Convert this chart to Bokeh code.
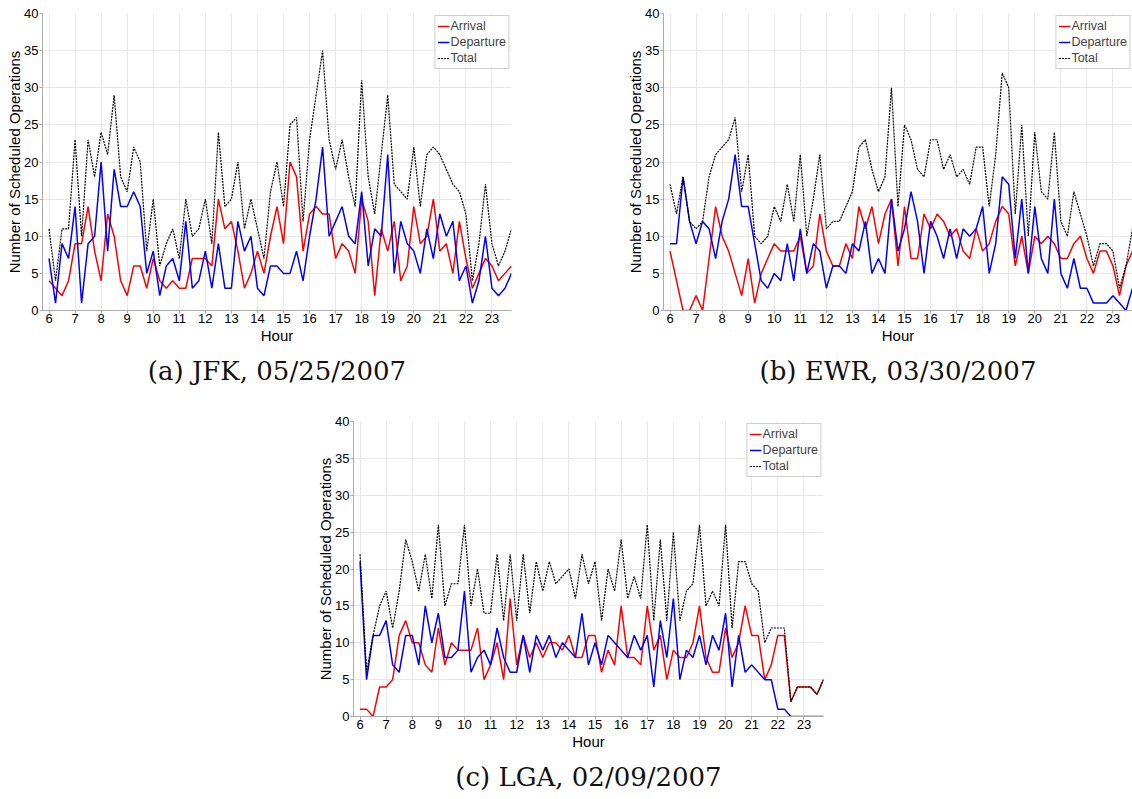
from bokeh.plotting import figure
from bokeh.models import Range1d, Title, Spacer, FixedTicker
from bokeh.layouts import column, row
from bokeh.embed import file_html
from bokeh.resources import INLINE

# quarter-hour slots from 06:00 to 23:45
hours = [6 + 0.25 * i for i in range(72)]
hour_ticks = list(range(6, 24))
ops_ticks = list(range(0, 41, 5))

# (a) JFK, 05/25/2007
jfk_arrival = [4, 3, 2, 4, 9, 9, 14, 8, 4, 13,
               10, 4, 2, 6, 6, 3, 7, 4, 3, 4,
               3, 3, 7, 7, 7, 6, 15, 11, 12, 8,
               3, 5, 8, 5, 10, 14, 9, 20, 18, 8,
               13, 14, 13, 13, 7, 9, 8, 5, 15, 12,
               2, 11, 8, 12, 4, 6, 14, 9, 10, 15,
               8, 9, 5, 12, 7, 3, 5, 7, 6, 4,
               5, 6]
jfk_departure = [7, 1, 9, 7, 14, 1, 9, 10, 20, 8,
                 19, 14, 14, 16, 14, 5, 8, 2, 6, 7,
                 4, 12, 3, 4, 8, 3, 9, 3, 3, 12,
                 8, 10, 3, 2, 6, 6, 5, 5, 8, 4,
                 10, 15, 22, 10, 12, 14, 10, 9, 16, 6,
                 11, 10, 21, 5, 12, 9, 8, 5, 11, 7,
                 13, 10, 12, 4, 6, 1, 4, 10, 3, 2,
                 3, 5]
jfk_total = [11, 4, 11, 11, 23, 10, 23, 18, 24, 21,
             29, 18, 16, 22, 20, 8, 15, 6, 9, 11,
             7, 15, 10, 11, 15, 9, 24, 14, 15, 20,
             11, 15, 11, 7, 16, 20, 14, 25, 26, 12,
             23, 29, 35, 23, 19, 23, 18, 14, 31, 18,
             13, 21, 29, 17, 16, 15, 22, 14, 21, 22,
             21, 19, 17, 16, 13, 4, 9, 17, 9, 6,
             8, 11]

# (b) EWR, 03/30/2007
ewr_arrival = [8, 4, 0, 0, 2, 0, 7, 14, 10, 8,
               5, 2, 7, 1, 5, 7, 9, 8, 8, 8,
               10, 5, 6, 13, 8, 6, 6, 9, 7, 14,
               11, 14, 9, 13, 15, 6, 14, 7, 7, 13,
               11, 13, 12, 10, 11, 8, 7, 11, 8, 9,
               12, 14, 13, 6, 10, 5, 10, 9, 10, 9,
               7, 7, 9, 10, 7, 5, 8, 8, 6, 2,
               6, 8]
ewr_departure = [9, 9, 18, 12, 9, 12, 11, 7, 12, 15,
                 21, 14, 14, 9, 4, 3, 5, 4, 9, 4,
                 11, 5, 9, 8, 3, 6, 6, 5, 9, 8,
                 12, 5, 7, 5, 15, 8, 11, 16, 12, 5,
                 12, 10, 7, 11, 7, 11, 10, 11, 14, 5,
                 9, 18, 17, 7, 15, 5, 14, 7, 5, 15,
                 5, 3, 7, 3, 3, 1, 1, 1, 2, 1,
                 0, 3]
ewr_total = [17, 13, 18, 12, 11, 12, 18, 21, 22, 23,
             26, 16, 21, 10, 9, 10, 14, 12, 17, 12,
             21, 10, 15, 21, 11, 12, 12, 14, 16, 22,
             23, 19, 16, 18, 30, 14, 25, 23, 19, 18,
             23, 23, 19, 21, 18, 19, 17, 22, 22, 14,
             21, 32, 30, 13, 25, 10, 24, 16, 15, 24,
             12, 10, 16, 13, 10, 6, 9, 9, 8, 3,
             6, 11]

# (c) LGA, 02/09/2007
lga_arrival = [1, 1, 0, 4, 4, 5, 11, 13, 10, 10,
               7, 6, 12, 7, 10, 9, 9, 9, 12, 5,
               7, 10, 5, 16, 7, 11, 8, 10, 8, 10,
               10, 9, 11, 8, 8, 11, 11, 6, 9, 7,
               15, 8, 8, 7, 15, 9, 11, 5, 9, 8,
               8, 10, 15, 8, 6, 6, 12, 8, 10, 15,
               11, 11, 5, 7, 11, 11, 2, 4, 4, 4,
               3, 5]
lga_departure = [21, 5, 11, 11, 13, 7, 6, 11, 11, 7,
                 15, 10, 14, 8, 8, 9, 17, 6, 8, 9,
                 7, 12, 8, 6, 6, 11, 6, 11, 9, 11,
                 8, 10, 9, 8, 14, 7, 10, 7, 11, 10,
                 9, 8, 11, 9, 11, 4, 13, 8, 16, 5,
                 9, 8, 11, 7, 11, 9, 14, 4, 11, 6,
                 7, 6, 5, 5, 1, 1, 0, 0, 0, 0,
                 0, 0]
lga_total = [22, 6, 11, 15, 17, 12, 17, 24, 21, 17,
             22, 16, 26, 15, 18, 18, 26, 15, 20, 14,
             14, 22, 13, 22, 13, 22, 14, 21, 17, 21,
             18, 19, 20, 16, 22, 18, 21, 13, 20, 17,
             24, 16, 19, 16, 26, 13, 24, 13, 25, 13,
             17, 18, 26, 15, 17, 15, 26, 12, 21, 21,
             18, 17, 10, 12, 12, 12, 2, 4, 4, 4,
             3, 5]

SANS = "Liberation Sans"
SERIF = "DejaVu Serif"
AXIS_GRAY = "#ababab"
GRID_GRAY = "#e8e8e8"


def panel(arrival, departure, total, caption, width, height, frame_h, right):
    p = figure(width=width, height=height,
               x_range=Range1d(5.75, 23.75), y_range=Range1d(0, 40),
               output_backend="svg", toolbar_location=None,
               min_border_left=42, min_border_right=right, min_border_top=13,
               min_border_bottom=height - 13 - frame_h)
    p.outline_line_color = None
    p.background_fill_color = "white"
    p.border_fill_color = "white"

    p.xaxis.ticker = FixedTicker(ticks=hour_ticks)
    p.yaxis.ticker = FixedTicker(ticks=ops_ticks)
    p.xgrid.ticker = FixedTicker(ticks=hour_ticks)
    p.ygrid.ticker = FixedTicker(ticks=ops_ticks)
    for g in (p.xgrid, p.ygrid):
        g.grid_line_color = GRID_GRAY
        g.grid_line_width = 1

    p.xaxis.axis_label = "Hour"
    p.yaxis.axis_label = "Number of Scheduled Operations"
    for ax in (p.xaxis, p.yaxis):
        ax.axis_line_color = AXIS_GRAY
        ax.major_tick_line_color = AXIS_GRAY
        ax.major_tick_in = 0
        ax.major_tick_out = 3
        ax.minor_tick_line_color = None
        ax.major_label_text_font = SANS
        ax.major_label_text_font_size = "13px"
        ax.major_label_text_color = "black"
        ax.axis_label_text_font = SANS
        ax.axis_label_text_font_size = "15px"
        ax.axis_label_text_font_style = "normal"
        ax.axis_label_text_color = "black"
    p.xaxis.major_label_standoff = 0
    p.xaxis.axis_label_standoff = 1
    p.yaxis.major_label_standoff = 1
    p.yaxis.axis_label_standoff = -2

    p.line(hours, arrival, line_color="#ff0000", line_width=1.5, legend_label="Arrival")
    p.line(hours, departure, line_color="#0000ff", line_width=1.5, legend_label="Departure")
    p.line(hours, total, line_color="black", line_width=1.2, line_dash="2 1",
           legend_label="Total")

    lg = p.legend[0]
    lg.location = "top_right"
    lg.margin = 2
    lg.padding = 2
    lg.spacing = 0
    lg.glyph_width = 12
    lg.glyph_height = 16
    lg.label_height = 16
    lg.label_standoff = 1
    lg.label_text_font = SANS
    lg.label_text_font_size = "12.5px"
    lg.border_line_color = "#a0a0a0"
    lg.border_line_width = 1
    lg.background_fill_alpha = 1
    lg.click_policy = "none"

    cap = Title(text=caption, align="center", text_font=SERIF,
                text_font_size="26px", text_font_style="normal",
                text_color="#111111", standoff=15)
    p.add_layout(cap, "below")
    return p


fig_a = panel(jfk_arrival, jfk_departure, jfk_total, "(a) JFK, 05/25/2007",
              width=621, height=408, frame_h=297, right=110)
fig_b = panel(ewr_arrival, ewr_departure, ewr_total, "(b) EWR, 03/30/2007",
              width=511, height=408, frame_h=297, right=0)
fig_c = panel(lga_arrival, lga_departure, lga_total, "(c) LGA, 02/09/2007",
              width=622, height=391, frame_h=296, right=110)

layout = column(row(fig_a, fig_b), row(Spacer(width=311, height=391), fig_c))

with open("out.html", "w") as f:
    f.write(file_html(layout, INLINE))
